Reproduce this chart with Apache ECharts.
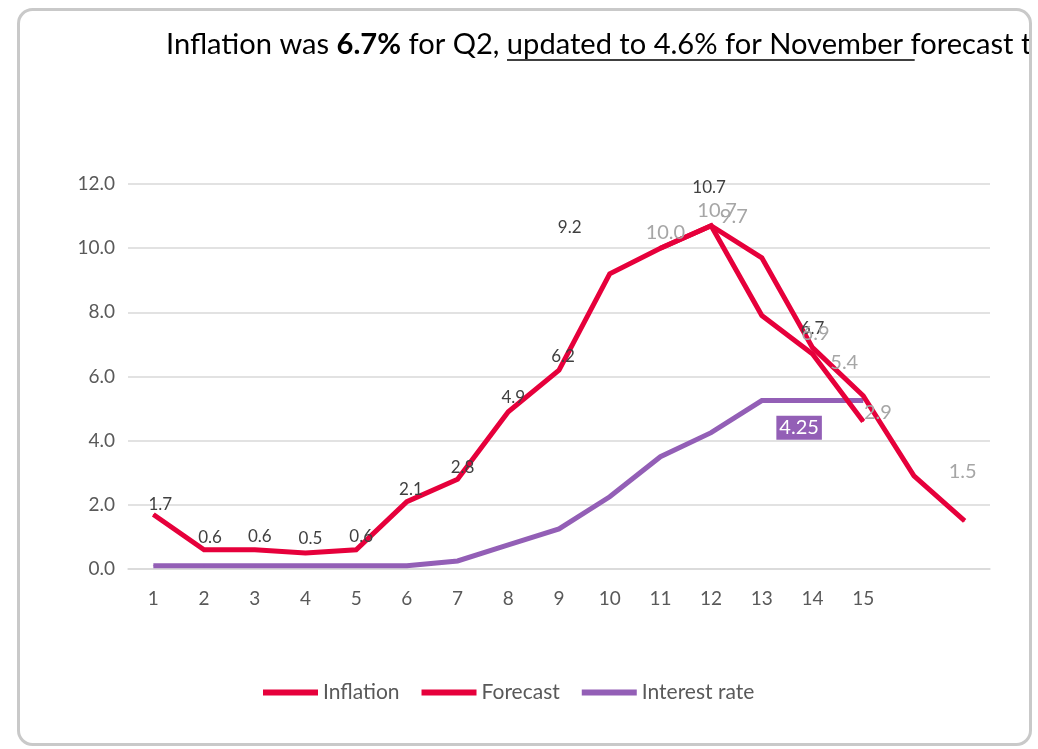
<!DOCTYPE html>
<html>
<head>
<meta charset="utf-8">
<script src="https://cdn.jsdelivr.net/npm/echarts@6/dist/echarts.min.js"></script>
<style>
  html, body { margin: 0; padding: 0; background: #fff; }
  #chart { width: 1038px; height: 749px; }
</style>
</head>
<body>
<div id="chart"></div>
<script>
// data
const categories = ['1', '2', '3', '4', '5', '6', '7', '8', '9', '10', '11', '12', '13', '14', '15', '', ''];
const inflation = [1.7, 0.6, 0.6, 0.5, 0.6, 2.1, 2.8, 4.9, 6.2, 9.2, 10.0, 10.7, 7.9, 6.7, 4.6];
const forecast = [null, null, null, null, null, null, null, null, null, null, 10.0, 10.7, 9.7, 6.9, 5.4, 2.9, 1.5];
const interestRate = [0.1, 0.1, 0.1, 0.1, 0.1, 0.1, 0.25, 0.75, 1.25, 2.25, 3.5, 4.25, 5.25, 5.25, 5.25];
const yTicks = [0, 2, 4, 6, 8, 10, 12];

// label placement (offset from the point, in px), by point index; missing = no label
const inflationLabelPos = {
  0: [7, -10], 1: [6, -12], 2: [5, -13], 3: [5, -14], 4: [5, -13],
  5: [4, -12], 6: [5, -12], 7: [5, -14], 8: [4, -14], 9: [-40, -46],
  11: [-2, -38], 13: [0, -26]
};
const forecastLabelPos = {
  10: [5, -16], 11: [6, -15], 12: [-28, -41], 13: [3, -14],
  14: [-19, -33], 15: [-36, -63], 16: [-2, -49]
};
const interestLabelPos = { 11: [88, -5] };

const RED = '#e6003b';
const PURPLE = '#935fb6';
const FONT = 'Lato';

const withLabels = (values, pos) => values.map((v, i) => {
  if (v == null) return null;
  return pos[i] ? { value: v, label: { show: true, offset: pos[i] } } : { value: v, label: { show: false } };
});

// title: fit the Lato text to the width of the original
const titleParts = {
  pre: 'Inflation was ', bold: '6.7%', mid: ' for Q2, ',
  under: 'updated to 4.6% for November ', post: 'forecast to'
};
const ctx = document.createElement('canvas').getContext('2d');
const measure = (txt, size, weight) => {
  ctx.font = (weight || 'normal') + ' ' + size + 'px ' + FONT;
  return ctx.measureText(txt).width;
};
const baseSize = 24;
const preW = measure(titleParts.pre, baseSize) + measure(titleParts.bold, baseSize, 'bold') + measure(titleParts.mid, baseSize);
const titleSize = baseSize * 341 / preW;
const titleX = 166;
const underStart = titleX + preW * titleSize / baseSize;
const underEnd = underStart + measure(titleParts.under, titleSize) + 4;

const chart = echarts.init(document.getElementById('chart'));

const labelBase = { show: true, position: 'inside', fontFamily: FONT, formatter: p => p.value.toFixed(1) };
const lineBase = { width: 5, join: 'miter' };

const option = {
  animation: false,
  textStyle: { fontFamily: FONT },
  grid: { left: 128, right: 48, top: 184, bottom: 180 },
  legend: {
    data: ['Inflation', 'Forecast', 'Interest rate'],
    left: 258,
    top: 677,
    icon: 'rect',
    itemWidth: 55,
    itemHeight: 6,
    itemGap: 22,
    textStyle: { color: '#595959', fontSize: 21, fontFamily: FONT }
  },
  xAxis: {
    type: 'category',
    data: categories,
    boundaryGap: true,
    axisLine: { lineStyle: { color: '#d9d9d9', width: 1.5 } },
    axisTick: { show: false },
    axisLabel: { color: '#595959', fontSize: 19, fontFamily: FONT, interval: 0, margin: 20 }
  },
  yAxis: {
    type: 'value',
    min: yTicks[0],
    max: yTicks[yTicks.length - 1],
    interval: yTicks[1] - yTicks[0],
    axisLine: { show: false },
    axisTick: { show: false },
    splitLine: { lineStyle: { color: '#d9d9d9', width: 1.5 } },
    axisLabel: { color: '#595959', fontSize: 19, fontFamily: FONT, margin: 13, formatter: v => v.toFixed(1) }
  },
  series: [
    {
      name: 'Interest rate',
      type: 'line',
      z: 2,
      data: withLabels(interestRate, interestLabelPos),
      symbol: 'circle',
      symbolSize: 1,
      itemStyle: { color: PURPLE },
      lineStyle: Object.assign({ color: PURPLE }, lineBase),
      label: {
        show: true, position: 'inside', fontFamily: FONT, fontSize: 20, color: '#fff',
        backgroundColor: PURPLE, padding: [3, 3, 1, 3],
        formatter: p => String(p.value)
      },
      emphasis: { disabled: true }
    },
    {
      name: 'Inflation',
      type: 'line',
      z: 3,
      data: withLabels(inflation, inflationLabelPos),
      symbol: 'circle',
      symbolSize: 1,
      itemStyle: { color: RED },
      lineStyle: Object.assign({ color: RED }, lineBase),
      label: Object.assign({}, labelBase, { color: '#404040', fontSize: 17 }),
      emphasis: { disabled: true }
    },
    {
      name: 'Forecast',
      type: 'line',
      z: 3,
      data: withLabels(forecast, forecastLabelPos),
      connectNulls: false,
      symbol: 'circle',
      symbolSize: 1,
      itemStyle: { color: RED },
      lineStyle: Object.assign({ color: RED }, lineBase),
      label: Object.assign({}, labelBase, { color: '#a6a6a6', fontSize: 20 }),
      emphasis: { disabled: true }
    }
  ],
  graphic: [
    {
      type: 'text',
      z: 10,
      style: {
        x: titleX,
        y: 45,
        verticalAlign: 'middle',
        text: '{a|' + titleParts.pre + '}{b|' + titleParts.bold + '}{a|' + titleParts.mid + '}{a|' +
          titleParts.under + '}{a|' + titleParts.post + '}',
        rich: {
          a: { fontSize: titleSize, fontFamily: FONT, fill: '#000' },
          b: { fontSize: titleSize, fontFamily: FONT, fontWeight: 'bold', fill: '#000' }
        }
      }
    },
    {
      type: 'line',
      z: 10,
      shape: { x1: underStart, y1: 60, x2: underEnd, y2: 60 },
      style: { stroke: '#000', lineWidth: 1.5 }
    },
    {
      type: 'rect',
      z: 11,
      shape: { x: 1031, y: 0, width: 10, height: 749 },
      style: { fill: '#fff' }
    },
    {
      type: 'rect',
      z: 12,
      shape: { x: 18.5, y: 9.5, width: 1012, height: 735, r: 14 },
      style: { fill: 'none', stroke: '#c9c9c9', lineWidth: 3 }
    }
  ]
};

chart.setOption(option);
</script>
</body>
</html>
